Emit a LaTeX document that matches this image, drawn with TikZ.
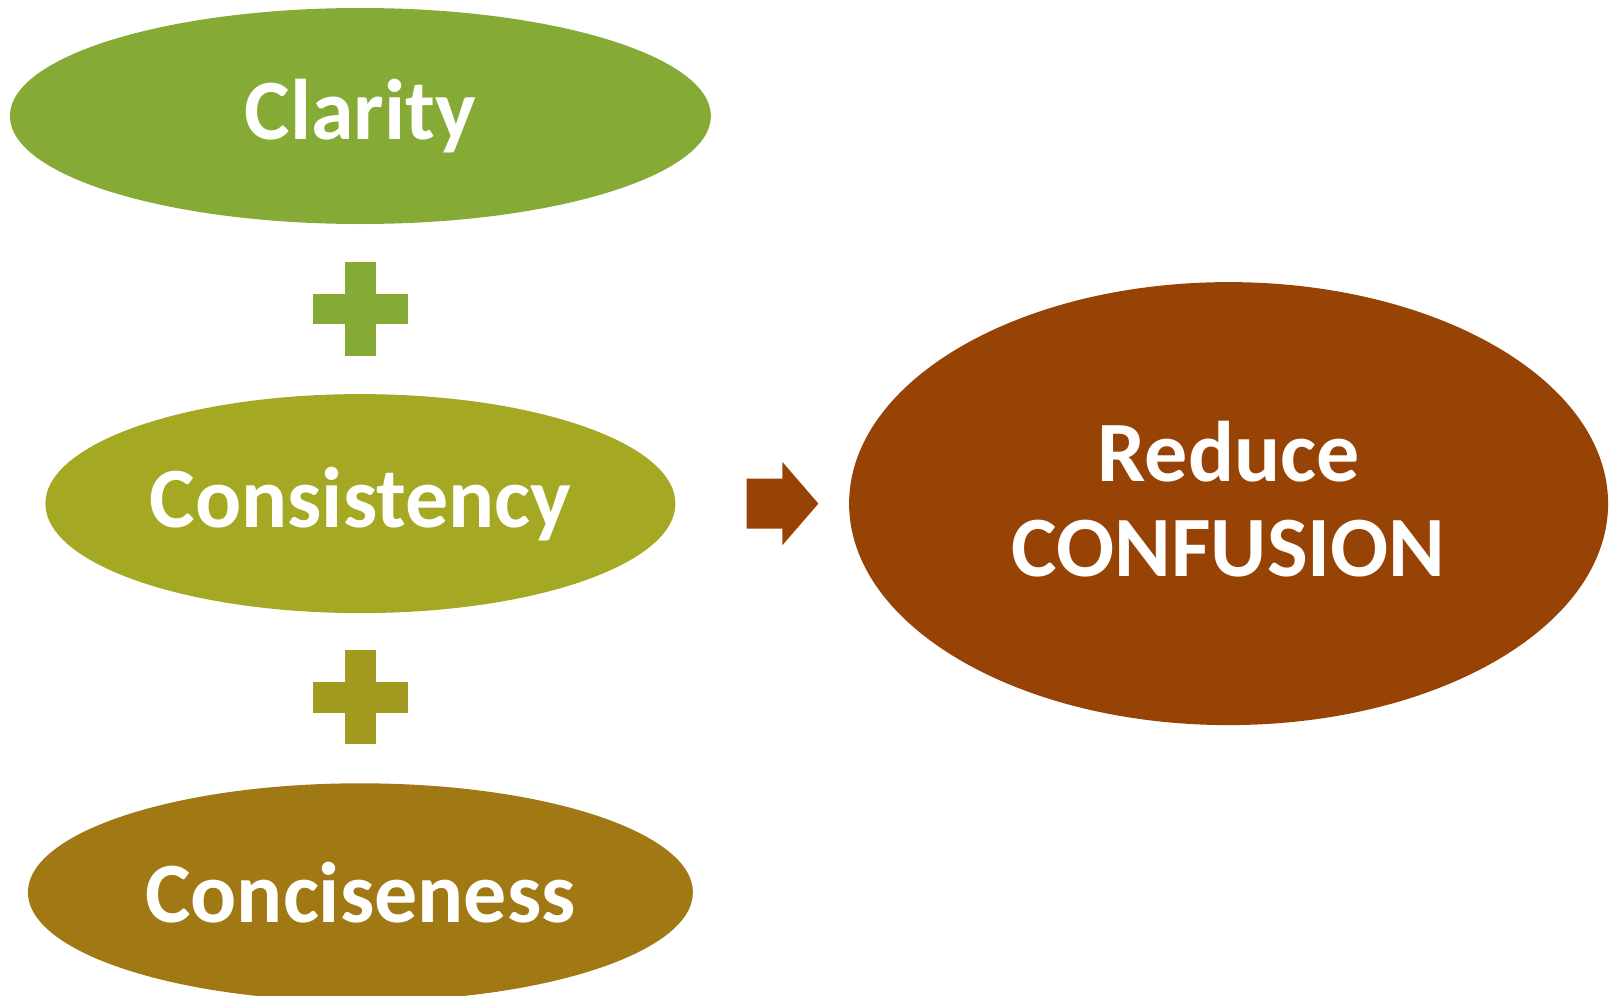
\documentclass[tikz,border=0pt]{standalone}
\usepackage{fontspec}
\setmainfont{Carlito}
\usepackage{xcolor}
\definecolor{clargreen}{HTML}{86AA36}
\definecolor{consolive}{HTML}{A4A823}
\definecolor{plusolive}{HTML}{A29A1E}
\definecolor{concbrown}{HTML}{A07914}
\definecolor{rustbrown}{HTML}{974306}
\usepackage{tikz}
\usetikzlibrary{shapes.geometric}
\usetikzlibrary{positioning}

\begin{document}
\begin{tikzpicture}[x=1pt, y=-1pt,
    blob/.style={ellipse, inner sep=0pt, text=white,
      font=\fontsize{86}{95}\selectfont\bfseries, align=center}]

    \newcommand\plusarm{47.2}
    \newcommand\pluswid{15.4}

    \clip (0, 0) rectangle (1610, 996);
    \useasboundingbox (0, 0) rectangle (1610, 996);

    \node [blob, fill=clargreen, minimum width=701, minimum height=216]
    (clarity) at (360.4, 116) {Clarity};

    \node [blob, fill=consolive, minimum width=630, minimum height=219]
    (consistency) at (360.4, 503.6) {Consistency};

    \node [blob, fill=concbrown, minimum width=665, minimum height=218]
    (conciseness) at (360.4, 892.3) {Conciseness};

    \node [blob, fill=rustbrown, minimum width=759, minimum height=443,
      text depth=10pt]
    (confusion) at (1228.6, 503.6) {Reduce\\CONFUSION};

    % the two plus signs
    \coordinate (plusA) at (360.4, 309);
    \coordinate (plusB) at (360.4, 697.2);
    \fill [clargreen] ([xshift=-\plusarm, yshift=-\pluswid] plusA)
    rectangle ([xshift=\plusarm, yshift=\pluswid] plusA);
    \fill [clargreen] ([xshift=-\pluswid, yshift=-\plusarm] plusA)
    rectangle ([xshift=\pluswid, yshift=\plusarm] plusA);
    \fill [plusolive] ([xshift=-\plusarm, yshift=-\pluswid] plusB)
    rectangle ([xshift=\plusarm, yshift=\pluswid] plusB);
    \fill [plusolive] ([xshift=-\pluswid, yshift=-\plusarm] plusB)
    rectangle ([xshift=\pluswid, yshift=\plusarm] plusB);

    % block arrow towards the result
    \fill [rustbrown] (746.5, 478.5)
    -- (782.4, 478.5)
    -- (782.4, 462)
    -- (818.4, 503.6)
    -- (782.4, 545.2)
    -- (782.4, 528.7)
    -- (746.5, 528.7)
    -- cycle;

  \end{tikzpicture}
\end{document}
